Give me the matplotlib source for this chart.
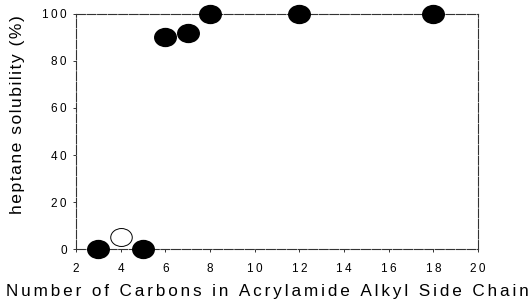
import matplotlib.pyplot as plt
from matplotlib.path import Path
from matplotlib.transforms import Affine2D
from matplotlib.ticker import FuncFormatter

carbons_filled = [3, 5, 6, 7, 8, 12, 18]
solubility_filled = [0, 0, 90, 92, 100, 100, 100]
carbons_open = [4]
solubility_open = [5]
x_ticks = [2, 4, 6, 8, 10, 12, 14, 16, 18, 20]
y_ticks = [0, 20, 40, 60, 80, 100]
x_title = 'Number of Carbons in Acrylamide Alkyl Side Chain'
y_title = 'heptane solubility (%)'

plt.rcParams['font.family'] = ['Liberation Sans', 'DejaVu Sans']


def spaced(s, gap):
    # the scan has wide letter tracking, fake it with narrow spaces
    return gap.join(s)


# slightly wide ellipse like the scanned markers
oval = Path.unit_circle().transformed(Affine2D().scale(1.2, 1.0))

fig = plt.figure(figsize=(5.3, 3.03), dpi=100)
ax = fig.add_axes([0.1434, 0.178, 0.7585, 0.776])
ax.plot(carbons_open, solubility_open, linestyle='none', marker=oval,
        markersize=15.5, markerfacecolor='white', markeredgecolor='black',
        markeredgewidth=0.7, clip_on=False, zorder=3)
ax.plot(carbons_filled, solubility_filled, linestyle='none', marker=oval,
        markersize=15.5, color='black', clip_on=False, zorder=4)

ax.set_xlim(2, 20)
ax.set_ylim(0, 100)
ax.set_xticks(x_ticks)
ax.set_yticks(y_ticks)
fmt = FuncFormatter(lambda v, p: spaced(str(int(v)), '\u2009'))
ax.xaxis.set_major_formatter(fmt)
ax.yaxis.set_major_formatter(fmt)
for s in ax.spines.values():
    s.set_color('#333333')
    s.set_linewidth(0.8)
    s.set_linestyle((0, (8, 1.5)))
ax.tick_params(length=2, width=0.7, color='#333333', labelsize=8.5)
ax.tick_params(axis='x', pad=8)
ax.tick_params(axis='y', pad=4.5)
ax.set_xlabel(spaced(x_title, '\u2006'), fontsize=12.3)
ax.set_ylabel(spaced(y_title, '\u200a'), fontsize=12.6)
ax.xaxis.set_label_coords(0.475, -0.148)
ax.yaxis.set_label_coords(-0.127, 0.57)
fig.savefig('out.png', dpi=100)
